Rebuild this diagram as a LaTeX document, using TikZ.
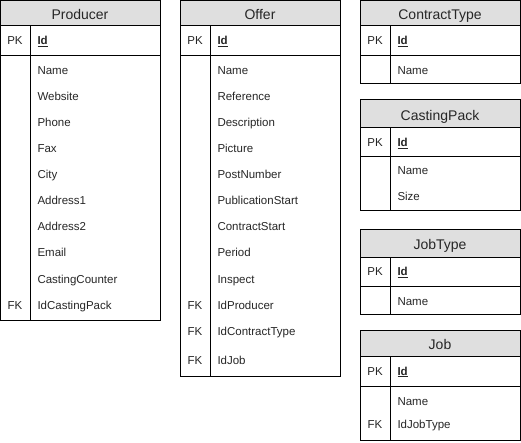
\documentclass[tikz,border=0pt]{standalone}
\usepackage{fontspec}
\setmainfont{Liberation Sans}
\usetikzlibrary{positioning}

\begin{document}
\begin{tikzpicture}[x=1pt, y=-1pt, line width=1pt,
        head/.style={draw, fill=gray!25},
        title/.style={anchor=base, inner sep=0pt, text=black!85, font=\fontsize{14}{16}\selectfont},
        field/.style={anchor=base west, inner sep=0pt, text=black!85, font=\fontsize{11.5}{14}\selectfont},
        keytag/.style={anchor=base, inner sep=0pt, text=black!85, font=\fontsize{11.5}{14}\selectfont}]
    \useasboundingbox (0,0) rectangle (521,443);

    % Producer
    \draw[head] (0.5,0.5) rectangle (160,25.5);
    \node[title] (producer) at (80,20) {Producer};
    \draw (0.5,25.5) rectangle (160,320);
    \draw (0.5,56) -- (160,56);
    \draw (30,25.5) -- (30,320);
    \node[keytag] (producer-pk) at (15,45) {PK};
    \node[field] (producer-id) at (37,45) {\underline{\textbf{Id}}};
    \foreach \f [count=\i] in {Name, Website, Phone, Fax, City, Address1, Address2, Email, CastingCounter, IdCastingPack}
        \node[field] (producer-\i) at (37,49+26*\i) {\f};
    \node[keytag] (producer-fk) at (15,309) {FK};

    % Offer
    \draw[head] (180,0.5) rectangle (340,25.5);
    \node[title] (offer) at (260,20) {Offer};
    \draw (180,25.5) rectangle (340,376);
    \draw (180,56) -- (340,56);
    \draw (210,25.5) -- (210,376);
    \node[keytag] (offer-pk) at (195,45) {PK};
    \node[field] (offer-id) at (217,45) {\underline{\textbf{Id}}};
    \foreach \f [count=\i] in {Name, Reference, Description, Picture, PostNumber, PublicationStart, ContractStart, Period, Inspect, IdProducer}
        \node[field] (offer-\i) at (217,49+26*\i) {\f};
    \node[field] (offer-11) at (217,335) {IdContractType};
    \node[field] (offer-12) at (217,364) {IdJob};
    \node[keytag] (offer-fk1) at (195,309) {FK};
    \node[keytag] (offer-fk2) at (195,335) {FK};
    \node[keytag] (offer-fk3) at (195,364) {FK};

    % ContractType
    \draw[head] (360,0.5) rectangle (520,25.5);
    \node[title] (contracttype) at (440,20) {ContractType};
    \draw (360,25.5) rectangle (520,84);
    \draw (360,56) -- (520,56);
    \draw (390,25.5) -- (390,84);
    \node[keytag] (contracttype-pk) at (375,45) {PK};
    \node[field] (contracttype-id) at (397,45) {\underline{\textbf{Id}}};
    \node[field] (contracttype-1) at (397,75) {Name};

    % CastingPack
    \draw[head] (360,99.5) rectangle (520,128);
    \node[title] (castingpack) at (440,120.5) {CastingPack};
    \draw (360,128) rectangle (520,211);
    \draw (360,157) -- (520,157);
    \draw (390,128) -- (390,211);
    \node[keytag] (castingpack-pk) at (375,146.5) {PK};
    \node[field] (castingpack-id) at (397,146.5) {\underline{\textbf{Id}}};
    \node[field] (castingpack-1) at (397,175) {Name};
    \node[field] (castingpack-2) at (397,201) {Size};

    % JobType
    \draw[head] (360,230) rectangle (520,257);
    \node[title] (jobtype) at (440,250) {JobType};
    \draw (360,257) rectangle (520,314);
    \draw (360,286) -- (520,286);
    \draw (390,257) -- (390,314);
    \node[keytag] (jobtype-pk) at (375,275.5) {PK};
    \node[field] (jobtype-id) at (397,275.5) {\underline{\textbf{Id}}};
    \node[field] (jobtype-1) at (397,305) {Name};

    % Job
    \draw[head] (360,330) rectangle (520,356.5);
    \node[title] (job) at (440,349) {Job};
    \draw (360,356.5) rectangle (520,440);
    \draw (360,386) -- (520,386);
    \draw (390,356.5) -- (390,440);
    \node[keytag] (job-pk) at (375,375) {PK};
    \node[field] (job-id) at (397,375) {\underline{\textbf{Id}}};
    \node[field] (job-1) at (397,405) {Name};
    \node[field] (job-2) at (397,428.5) {IdJobType};
    \node[keytag] (job-fk) at (375,428.5) {FK};
\end{tikzpicture}
\end{document}
